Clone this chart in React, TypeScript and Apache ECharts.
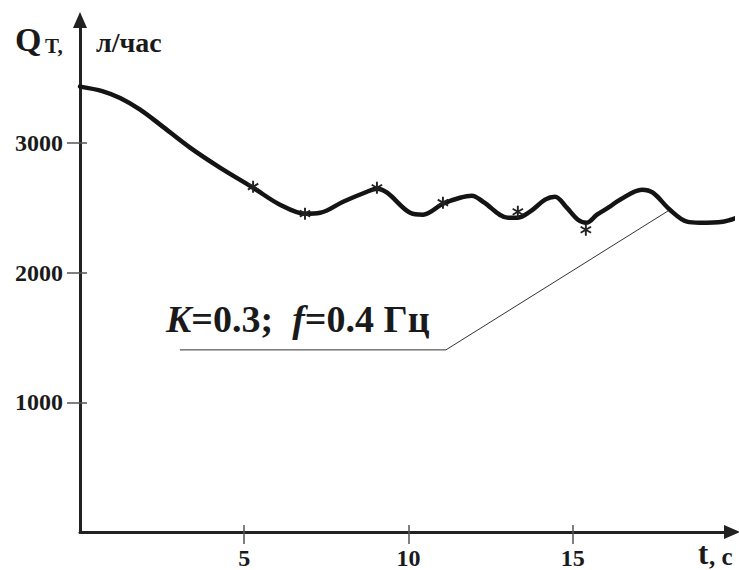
import React, { useEffect, useRef } from "react";
import * as echarts from "echarts";

// Model curve Q_T(t)
const curveT = [0, 0.7, 1.22, 1.83, 2.44, 3.35, 4.26, 5.27, 6.09, 6.85, 7.31, 8.01, 8.74, 9.04, 9.35, 10.05, 10.44, 11.05, 11.57, 11.93, 12.27, 13.03, 13.33, 13.7, 14.16, 14.46, 14.82, 15.16, 15.43, 15.74, 16.13, 16.44, 17.11, 17.44, 17.96, 18.48, 18.87, 19.57, 20.0];
const curveQ = [3436, 3400, 3348, 3259, 3143, 2965, 2811, 2656, 2525, 2456, 2463, 2548, 2625, 2649, 2618, 2463, 2448, 2533, 2579, 2595, 2548, 2425, 2425, 2471, 2564, 2587, 2502, 2409, 2386, 2448, 2510, 2564, 2641, 2618, 2486, 2394, 2386, 2394, 2425];

// Experimental points (asterisks)
const pointT = [5.27, 6.85, 9.04, 11.05, 13.33, 15.4];
const pointQ = [2664, 2456, 2656, 2541, 2471, 2332];

// Leader line of the annotation
const leaderT = [3.04, 11.14, 17.96];
const leaderQ = [1405, 1405, 2486];

const xTicks = [5, 10, 15];
const yTicks = [1000, 2000, 3000];
const xMax = 19.85;
const yMax = 3950;

const asterisk =
  "path://M-0.8,-5L0.8,-5L0.8,5L-0.8,5Z" +
  "M3.93,-3.19L4.73,-1.81L-3.93,3.19L-4.73,1.81Z" +
  "M-4.73,-1.81L-3.93,-3.19L4.73,1.81L3.93,3.19Z";

const FONT = "Liberation Serif";
const INK = "#1a1a1a";

export default function App() {
  const ref = useRef<HTMLDivElement>(null);
  useEffect(() => {
    if (!ref.current) return;
    const chart = echarts.init(ref.current, undefined, { renderer: "svg" });
    const axisLineMain = {
      show: true,
      onZero: false,
      symbol: ["none", "triangle"],
      symbolSize: [14, 16],
      lineStyle: { color: "#222", width: 3 },
    };
    const labelBase = {
      color: INK,
      fontFamily: FONT,
      fontWeight: "bold",
      fontSize: 24,
      formatter: (v: number) => String(v),
    };
    const tickStyle = { color: "#555", width: 1.5 };
    chart.setOption({
      animation: false,
      backgroundColor: "#ffffff",
      textStyle: { fontFamily: FONT },
      grid: { left: 80, top: 20, width: 652, height: 512 },
      xAxis: [
        {
          type: "value",
          min: 0,
          max: xMax,
          position: "bottom",
          axisLine: axisLineMain,
          axisTick: { show: true, length: 12, customValues: xTicks, lineStyle: tickStyle },
          axisLabel: { ...labelBase, customValues: xTicks, margin: 14 },
          splitLine: { show: false },
        },
        {
          type: "value",
          min: 0,
          max: xMax,
          position: "bottom",
          axisLine: { show: false, onZero: false },
          axisTick: { show: true, inside: true, length: 7, customValues: xTicks, lineStyle: tickStyle },
          axisLabel: { show: false },
          splitLine: { show: false },
        },
      ],
      yAxis: [
        {
          type: "value",
          min: 0,
          max: yMax,
          position: "left",
          axisLine: axisLineMain,
          axisTick: { show: true, length: 13, customValues: yTicks, lineStyle: tickStyle },
          axisLabel: { ...labelBase, customValues: yTicks, margin: 17 },
          splitLine: { show: false },
        },
        {
          type: "value",
          min: 0,
          max: yMax,
          position: "left",
          axisLine: { show: false, onZero: false },
          axisTick: { show: true, inside: true, length: 7, customValues: yTicks, lineStyle: tickStyle },
          axisLabel: { show: false },
          splitLine: { show: false },
        },
      ],
      series: [
        {
          type: "line",
          name: "leader",
          data: leaderT.map((t, i) => [t, leaderQ[i]]),
          showSymbol: false,
          symbol: "none",
          lineStyle: { color: "#333", width: 1 },
          silent: true,
          z: 1,
        },
        {
          type: "line",
          name: "model",
          data: curveT.map((t, i) => [t, curveQ[i]]),
          smooth: 0.35,
          showSymbol: false,
          symbol: "none",
          clip: false,
          lineStyle: { color: "#141414", width: 4.5, join: "round", cap: "round" },
          z: 3,
        },
        {
          type: "scatter",
          name: "experiment",
          data: pointT.map((t, i) => [t, pointQ[i]]),
          symbol: asterisk,
          symbolSize: 12,
          symbolKeepAspect: true,
          itemStyle: { color: "#222", opacity: 1 },
          z: 4,
        },
      ],
      graphic: [
        {
          type: "text",
          x: 15,
          y: 39,
          style: { text: "Q", fontFamily: FONT, fontWeight: "bold", fontSize: 34, fill: INK, verticalAlign: "middle", align: "left" },
        },
        {
          type: "text",
          x: 45,
          y: 46,
          style: { text: "T,", fontFamily: FONT, fontWeight: "bold", fontSize: 21, fill: INK, verticalAlign: "middle", align: "left" },
        },
        {
          type: "text",
          x: 96,
          y: 42,
          style: { text: "л/час", fontFamily: FONT, fontWeight: "bold", fontSize: 28, fill: INK, verticalAlign: "middle", align: "left" },
        },
        {
          type: "text",
          x: 698,
          y: 553,
          style: { text: "t", fontFamily: FONT, fontWeight: "bold", fontSize: 31, fill: INK, verticalAlign: "middle", align: "left" },
        },
        {
          type: "text",
          x: 709,
          y: 556,
          style: { text: ", c", fontFamily: FONT, fontWeight: "bold", fontSize: 25, fill: INK, verticalAlign: "middle", align: "left" },
        },
        {
          type: "text",
          x: 166,
          y: 319,
          style: {
            text: "{i|K}{b|=0.3;  }{i|f}{b|=0.4 Гц}",
            verticalAlign: "middle",
            align: "left",
            fill: INK,
            rich: {
              i: { fontFamily: FONT, fontWeight: "bold", fontStyle: "italic", fontSize: 38, fill: INK },
              b: { fontFamily: FONT, fontWeight: "bold", fontSize: 38, fill: INK },
            },
          },
        },
      ],
    });
    return () => chart.dispose();
  }, []);
  return (
    <div
      ref={ref}
      style={{ position: "absolute", left: 0, top: 0, width: 739, height: 570, background: "#fff" }}
    />
  );
}
